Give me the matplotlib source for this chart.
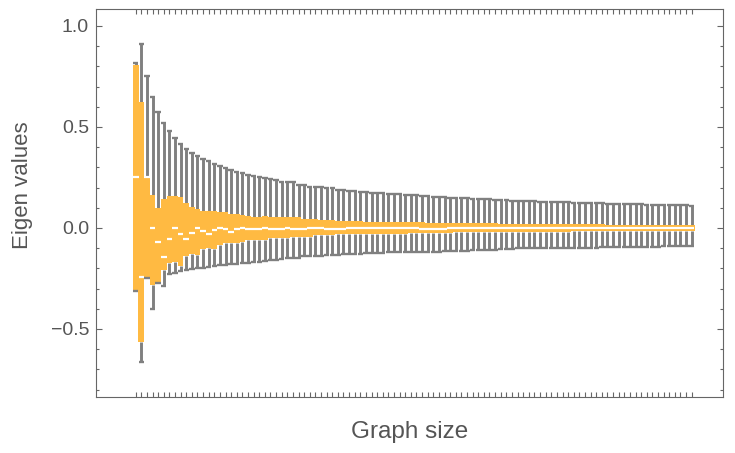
import numpy as np
import matplotlib
matplotlib.use("Agg")
import matplotlib.pyplot as plt
from matplotlib.ticker import MultipleLocator

# box-whisker stats per graph size
upper_whisker = [
    0.815, 0.91, 0.75, 0.648, 0.573, 0.518, 0.478, 0.444, 0.416, 0.391,
    0.371, 0.357, 0.343, 0.330, 0.318, 0.306, 0.297, 0.288, 0.278, 0.270,
    0.262, 0.256, 0.252, 0.247, 0.242, 0.237, 0.229, 0.225, 0.225, 0.215,
    0.215, 0.205, 0.205, 0.205, 0.196, 0.196, 0.188, 0.188, 0.182, 0.182,
    0.178, 0.178, 0.173, 0.173, 0.173, 0.168, 0.168, 0.168, 0.162, 0.162,
    0.162, 0.158, 0.158, 0.153, 0.153, 0.153, 0.147, 0.147, 0.147, 0.147,
    0.142, 0.142, 0.142, 0.142, 0.138, 0.138, 0.138, 0.133, 0.133, 0.133,
    0.133, 0.133, 0.129, 0.129, 0.129, 0.129, 0.129, 0.129, 0.122, 0.122,
    0.122, 0.122, 0.122, 0.122, 0.117, 0.117, 0.117, 0.117, 0.117, 0.117,
    0.117, 0.112, 0.112, 0.112, 0.112, 0.112, 0.112, 0.112, 0.112, 0.107,
]
upper_quartile = [
    0.805, 0.625, 0.25, 0.163, 0.097, 0.142, 0.158, 0.158, 0.152, 0.122,
    0.105, 0.092, 0.085, 0.085, 0.082, 0.080, 0.078, 0.069, 0.067, 0.065,
    0.058, 0.056, 0.055, 0.057, 0.055, 0.052, 0.052, 0.052, 0.052, 0.052,
    0.046, 0.046, 0.046, 0.040, 0.040, 0.040, 0.032, 0.032, 0.032, 0.032,
    0.032, 0.027, 0.027, 0.027, 0.027, 0.027, 0.027, 0.027, 0.027, 0.027,
    0.027, 0.027, 0.023, 0.023, 0.023, 0.023, 0.023, 0.023, 0.023, 0.023,
    0.023, 0.023, 0.023, 0.023, 0.023, 0.020, 0.020, 0.020, 0.020, 0.020,
    0.020, 0.020, 0.020, 0.020, 0.020, 0.020, 0.020, 0.020, 0.020, 0.020,
    0.020, 0.020, 0.020, 0.020, 0.015, 0.015, 0.015, 0.015, 0.015, 0.015,
    0.015, 0.015, 0.015, 0.015, 0.015, 0.015, 0.015, 0.015, 0.015, 0.015,
]
median = [
    0.25, -0.245, 0.25, 0.0, -0.072, -0.144, -0.057, -0.002, -0.030, -0.057,
    -0.026, 0.0, -0.013, -0.030, -0.008, 0.0, -0.006, -0.019, -0.004, 0.0,
    -0.004, -0.006, -0.004, -0.002, -0.006, -0.007, -0.004, -0.001, -0.004, -0.004,
    -0.004, 0.001, 0.001, 0.001, -0.005, -0.005, -0.005, -0.006, 0.002, 0.002,
    0.002, 0.002, -0.002, -0.002, -0.002, -0.002, 0.0, 0.0, 0.0, 0.0,
    0.0, -0.003, -0.003, -0.003, -0.003, -0.003, 0.0, 0.0, 0.0, 0.0,
    0.0, -0.002, -0.002, -0.002, -0.002, -0.002, -0.001, -0.001, -0.001, -0.001,
    -0.001, -0.001, -0.001, -0.001, -0.001, -0.001, -0.001, -0.001, -0.001, -0.001,
    -0.001, -0.001, -0.001, -0.001, -0.001, -0.001, -0.001, -0.001, -0.001, -0.001,
    -0.001, -0.001, -0.001, -0.001, -0.001, -0.001, -0.001, -0.001, -0.001, -0.001,
]
lower_quartile = [
    -0.305, -0.563, -0.25, -0.282, -0.266, -0.208, -0.175, -0.167, -0.190, -0.140,
    -0.130, -0.132, -0.104, -0.100, -0.103, -0.085, -0.076, -0.074, -0.073, -0.072,
    -0.062, -0.060, -0.058, -0.058, -0.051, -0.051, -0.050, -0.050, -0.043, -0.043,
    -0.043, -0.043, -0.036, -0.036, -0.036, -0.036, -0.031, -0.031, -0.031, -0.031,
    -0.031, -0.031, -0.031, -0.031, -0.031, -0.031, -0.031, -0.031, -0.031, -0.026,
    -0.026, -0.026, -0.026, -0.026, -0.026, -0.026, -0.026, -0.022, -0.022, -0.022,
    -0.022, -0.022, -0.022, -0.022, -0.022, -0.022, -0.022, -0.022, -0.022, -0.022,
    -0.022, -0.022, -0.022, -0.022, -0.022, -0.022, -0.022, -0.022, -0.016, -0.016,
    -0.016, -0.016, -0.016, -0.015, -0.015, -0.015, -0.015, -0.015, -0.015, -0.015,
    -0.015, -0.015, -0.015, -0.015, -0.015, -0.015, -0.015, -0.015, -0.015, -0.015,
]
lower_whisker = [
    -0.31, -0.664, -0.25, -0.402, -0.272, -0.288, -0.229, -0.221, -0.213, -0.207,
    -0.203, -0.198, -0.196, -0.191, -0.188, -0.185, -0.182, -0.179, -0.178, -0.175,
    -0.172, -0.170, -0.168, -0.165, -0.157, -0.157, -0.153, -0.147, -0.147, -0.147,
    -0.139, -0.139, -0.139, -0.139, -0.134, -0.134, -0.134, -0.130, -0.130, -0.130,
    -0.130, -0.125, -0.125, -0.125, -0.125, -0.121, -0.121, -0.121, -0.121, -0.121,
    -0.121, -0.117, -0.117, -0.117, -0.117, -0.114, -0.114, -0.114, -0.114, -0.114,
    -0.110, -0.110, -0.110, -0.110, -0.110, -0.105, -0.105, -0.105, -0.101, -0.101,
    -0.101, -0.101, -0.101, -0.101, -0.097, -0.097, -0.097, -0.097, -0.097, -0.097,
    -0.097, -0.097, -0.097, -0.094, -0.094, -0.094, -0.094, -0.094, -0.094, -0.094,
    -0.094, -0.094, -0.094, -0.094, -0.089, -0.089, -0.089, -0.089, -0.089, -0.089,
]

ytick_values = [-0.5, 0.0, 0.5, 1.0]
ytick_labels = ["\u22120.5", "0.0", "0.5", "1.0"]

box_color = "#FFBA42"
whisker_color = "#808080"
frame_color = "#666666"
text_color = "#555555"

plt.rcParams["font.family"] = ["Liberation Sans", "DejaVu Sans"]

fig = plt.figure(figsize=(7.35, 4.53), dpi=100)
ax = fig.add_axes([96 / 735, 1 - 397 / 453, 627 / 735, 388 / 453])

uw = np.array(upper_whisker)
q3 = np.array(upper_quartile)
med = np.array(median)
q1 = np.array(lower_quartile)
lw = np.array(lower_whisker)
pos = np.arange(len(med))

# whiskers + caps
ax.vlines(pos, q3, uw, color=whisker_color, lw=2.1, zorder=1)
ax.vlines(pos, lw, q1, color=whisker_color, lw=2.1, zorder=1)
caps_hi = ax.hlines(uw, pos - 0.48, pos + 0.48, color=whisker_color, lw=1.7, zorder=3)
caps_lo = ax.hlines(lw, pos - 0.48, pos + 0.48, color=whisker_color, lw=1.7, zorder=3)
caps_hi.set_capstyle("butt")
caps_lo.set_capstyle("butt")

# boxes
ax.bar(pos, q3 - q1, bottom=q1, width=1.01, color=box_color, linewidth=0, zorder=2)

# medians
meds = ax.hlines(med, pos - 0.5, pos + 0.5, color="white", lw=1.6, zorder=4)
meds.set_capstyle("butt")

ax.set_xlim(-7.07, 104.58)
ax.set_ylim(-0.837, 1.084)

ax.set_xticks(pos)
ax.set_xticklabels([])
ax.tick_params(axis="x", which="both", direction="in", length=3.5, width=0.8,
               top=True, bottom=True, color=frame_color)
ax.set_yticks(ytick_values, ytick_labels)
ax.yaxis.set_minor_locator(MultipleLocator(0.1))
ax.tick_params(axis="y", which="major", direction="in", length=4, width=0.8,
               left=True, right=True, color=frame_color, labelcolor=text_color,
               labelsize=14, pad=5)
ax.tick_params(axis="y", which="minor", direction="in", length=2.3, width=0.8,
               left=True, right=True, color=frame_color)

for s in ax.spines.values():
    s.set_color(frame_color)
    s.set_linewidth(0.8)

ax.set_xlabel("Graph size", fontsize=17.5, color=text_color, labelpad=14)
ax.set_ylabel("Eigen values", fontsize=16, color=text_color)
ax.yaxis.set_label_coords((33 - 96) / 627, (397 - 185) / 388)

fig.savefig("out.png", dpi=100)
